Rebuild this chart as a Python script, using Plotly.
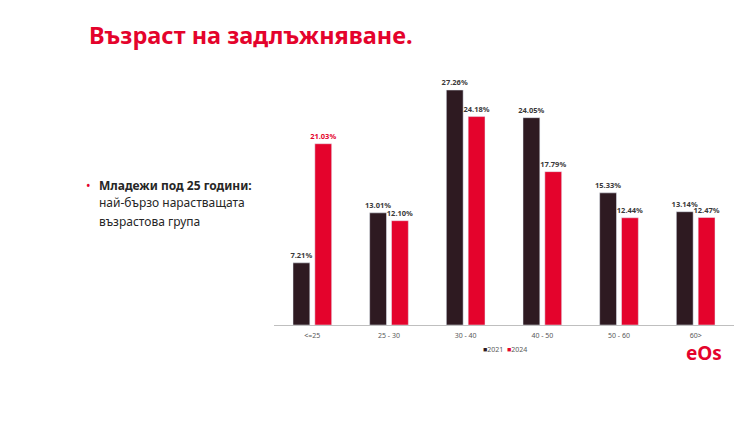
import plotly.graph_objects as go

categories = ["<=25", "25 - 30", "30 - 40", "40 - 50", "50 - 60", "60>"]
values_2021 = [7.21, 13.01, 27.26, 24.05, 15.33, 13.14]
values_2024 = [21.03, 12.10, 24.18, 17.79, 12.44, 12.47]
series_names = ["2021", "2024"]

title_text = "Възраст на задлъжняване."
bullet_bold = "Младежи под 25 години:"
bullet_lines = ["най-бързо нарастващата", "възрастова група"]
logo_text = "eOs"

DARK = "#2E1A21"
RED = "#E4032C"
GRAY = "#595959"
LABEL = "#3A3A3A"

W, H = 740, 429
L, R = 273.7, 733.7
T, B = 70, 325

def px(x):
    return (x - L) / (R - L)

def py(y):
    return (B - y) / (B - T)

fig = go.Figure()
fig.add_trace(go.Bar(
    x=categories, y=values_2021, name=series_names[0],
    marker_color=DARK,
    text=[f"<b>{v:.2f}%</b>" for v in values_2021], textposition="outside",
    textfont=dict(size=7.5, color=LABEL, family="Noto Sans"),
    cliponaxis=False, showlegend=False,
))
label_colors_2024 = [RED if i == 0 else LABEL for i in range(len(values_2024))]
fig.add_trace(go.Bar(
    x=categories, y=values_2024, name=series_names[1],
    marker_color=RED,
    text=[f"<b>{v:.2f}%</b>" for v in values_2024], textposition="outside",
    textfont=dict(size=7.5, color=label_colors_2024, family="Noto Sans"),
    cliponaxis=False, showlegend=False,
))

fig.update_layout(
    width=W, height=H,
    margin=dict(l=L, r=W - R, t=T, b=H - B, pad=0),
    paper_bgcolor="white", plot_bgcolor="white",
    barmode="group", bargap=0.43, bargroupgap=0.23,
    font=dict(family="Noto Sans", color=GRAY),
    xaxis=dict(showgrid=False, showline=True, linecolor="#BFBFBF", linewidth=1,
               ticks="", tickfont=dict(size=7, color=GRAY), ticklabelstandoff=4),
    yaxis=dict(range=[0, (B - T) / 8.62], visible=False, showgrid=False),
    showlegend=False,
)

fig.update_traces(constraintext="none")

legend_text = (f"<span style='color:{DARK}'>■</span>{series_names[0]}  "
               f"<span style='color:{RED}'>■</span>{series_names[1]}")

annotations = [
    dict(text=f"<b>{title_text}</b>", x=px(87), y=py(35), xanchor="left", yanchor="middle",
         font=dict(size=23.5, color=RED, family="Noto Sans")),
    dict(text="•", x=px(84), y=py(185), xanchor="left", yanchor="middle",
         font=dict(size=12, color=RED, family="Noto Sans")),
    dict(text=f"<b>{bullet_bold}</b>", x=px(97), y=py(185), xanchor="left", yanchor="middle",
         font=dict(size=12, color="#262626", family="Noto Sans")),
    dict(text=bullet_lines[0], x=px(97), y=py(203), xanchor="left", yanchor="middle",
         font=dict(size=12, color="#262626", family="Noto Sans")),
    dict(text=bullet_lines[1], x=px(97), y=py(221), xanchor="left", yanchor="middle",
         font=dict(size=12, color="#262626", family="Noto Sans")),
    dict(text=legend_text, x=px(505), y=py(349), xanchor="center", yanchor="middle",
         font=dict(size=7, color=GRAY, family="Noto Sans")),
    dict(text=f"<b>{logo_text}</b>", x=px(704), y=py(353), xanchor="center", yanchor="middle",
         font=dict(size=19, color=RED, family="Noto Sans")),
]
for a in annotations:
    a.update(xref="paper", yref="paper", showarrow=False)
fig.update_layout(annotations=annotations)

fig.write_html("out.html")
